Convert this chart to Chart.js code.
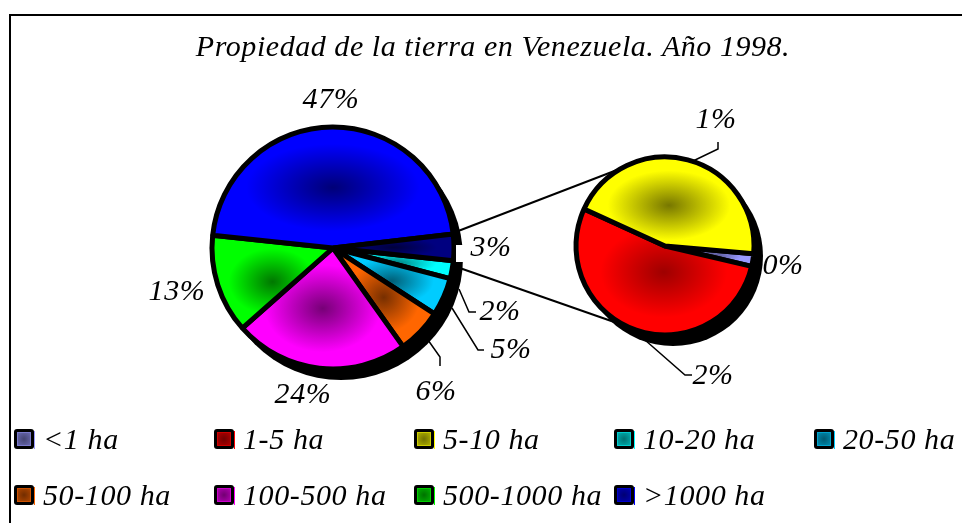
<!DOCTYPE html>
<html lang="es">
<head>
<meta charset="utf-8">
<title>Propiedad de la tierra en Venezuela</title>
<script src="https://cdn.jsdelivr.net/npm/chart.js@4"></script>
<style>
html,body{margin:0;padding:0;background:#fff;overflow:hidden}
#stage{position:relative;width:962px;height:523px;overflow:hidden;background:#fff;font-family:"Liberation Serif",serif;font-style:italic;color:#000}
#frame{position:absolute;left:9px;top:14px;width:970px;height:530px;border:2.5px solid #000;box-sizing:border-box}
canvas{position:absolute;left:0;top:0}
#title{position:absolute;left:0;top:28px;width:986px;text-align:center;font-size:30px;line-height:36px;letter-spacing:.55px;white-space:nowrap}
.item{position:absolute;height:24px;white-space:nowrap;font-size:30px;line-height:24px;letter-spacing:.6px}
.item span{position:absolute;left:29px;top:0}
.sw{position:absolute;left:0;top:2px;width:20px;height:20px;background:#000;border-radius:3px}
.sw i{position:absolute;left:3px;top:3px;width:12px;height:12px;border:1px solid}
.sw b{position:absolute;left:20px;top:2px;width:1px;height:18px}
</style>
</head>
<body>
<div id="stage">
  <div id="frame"></div>
  <canvas id="main" width="962" height="523"></canvas>
  <canvas id="second" width="962" height="523"></canvas>
  <div id="title">Propiedad de la tierra en Venezuela. Año 1998.</div>
  <div id="legend"></div>
</div>
<script>
const legendLabels = ["<1 ha","1-5 ha","5-10 ha","10-20 ha","20-50 ha","50-100 ha","100-500 ha","500-1000 ha",">1000 ha"];
const legendColors = ["#9999ff","#ff0000","#ffff00","#00ffff","#00ccff","#ff6600","#ff00ff","#00ff00","#0000ff"];

const mainCategories = ["10-20 ha","20-50 ha","50-100 ha","100-500 ha","500-1000 ha",">1000 ha","Otros"];
const mainValues = [2.4,5.1,6.0,23.3,13.2,46.5,3.5];
const mainTexts = ["2%","5%","6%","24%","13%","47%","3%"];
const mainColors = ["#00ffff","#00ccff","#ff6600","#ff00ff","#00ff00","#0000ff","#000080"];

const secondCategories = ["<1 ha","1-5 ha","5-10 ha"];
const secondValues = [0.08,1.86,1.56];
const secondTexts = ["0%","2%","1%"];
const secondColors = ["#9999ff","#ff0000","#ffff00"];

const LABEL_FONT = 'italic 30px "Liberation Serif", serif';
const SHADOW = {dx: 8, dy: 10};

function shade(hex, f){
  const n = parseInt(hex.slice(1),16);
  return `rgb(${((n>>16)&255)*f|0},${((n>>8)&255)*f|0},${(n&255)*f|0})`;
}
/* Bounding box of a slice, from the element's own geometry */
function sliceBox(a){
  const xs=[a.x], ys=[a.y], r=a.outerRadius;
  const pts=[a.startAngle,a.endAngle];
  for(let k=-8;k<=16;k++){const t=k*Math.PI/2; if(t>a.startAngle&&t<a.endAngle) pts.push(t);}
  pts.forEach(t=>{xs.push(a.x+r*Math.cos(t)); ys.push(a.y+r*Math.sin(t));});
  return {x0:Math.min(...xs),x1:Math.max(...xs),y0:Math.min(...ys),y1:Math.max(...ys)};
}
function slicePattern(a,color){
  const off=document.createElement('canvas'); off.width=962; off.height=523;
  const c=off.getContext('2d'), b=sliceBox(a);
  c.fillStyle=color; c.fillRect(0,0,962,523);
  const cx=(b.x0+b.x1)/2, cy=(b.y0+b.y1)/2, rx=(b.x1-b.x0)/2, ry=(b.y1-b.y0)/2;
  c.translate(cx,cy); c.scale(rx,ry);
  const g=c.createRadialGradient(0,0,0,0,0,1);
  g.addColorStop(0,shade(color,color==='#ff0000'?.62:.47));
  g.addColorStop(.72,color);
  g.addColorStop(1,color);
  c.fillStyle=g; c.fillRect(-1,-1,2,2);
  return c.createPattern(off,'no-repeat');
}
const slicePlugin={
  id:'slices',
  beforeDatasetsDraw(chart,args,o){
    const arcs=chart.getDatasetMeta(0).data, ctx=chart.ctx;
    arcs.forEach((a,i)=>{
      a.options=Object.assign({},a.options,{backgroundColor:slicePattern(a,chart.data.datasets[0].sliceColors[i])});
    });
    const a=arcs[0];
    ctx.save(); ctx.fillStyle='#000'; ctx.beginPath();
    ctx.arc(a.x+SHADOW.dx,a.y+SHADOW.dy,a.outerRadius+1,0,Math.PI*2); ctx.fill(); ctx.restore();
  },
  afterDatasetsDraw(chart,args,o){
    const ctx=chart.ctx, arcs=chart.getDatasetMeta(0).data, c=arcs[0];
    ctx.save();
    ctx.strokeStyle='#000'; ctx.lineJoin='miter';
    (o.leaders||[]).forEach(path=>{
      ctx.lineWidth=path.w||1.5; ctx.beginPath();
      path.p.forEach(([dx,dy],k)=>k?ctx.lineTo(c.x+dx,c.y+dy):ctx.moveTo(c.x+dx,c.y+dy));
      ctx.stroke();
    });
    if(o.notch){ctx.fillStyle='#fff';ctx.fillRect(c.x+o.notch[0],c.y+o.notch[1],o.notch[2],o.notch[3]);}
    ctx.font=LABEL_FONT; ctx.textAlign='center'; ctx.textBaseline='middle';
    ctx.letterSpacing='.6px';
    chart.data.datasets[0].texts.forEach((t,i)=>{
      const [dx,dy]=o.offsets[i];
      ctx.fillStyle='#000'; ctx.fillText(t,c.x+dx,c.y+dy);
    });
    ctx.restore();
  }
};
function pie(id,labels,values,colors,texts,rotation,radius,padding,labelOpts){
  return new Chart(document.getElementById(id),{
    type:'pie',
    data:{labels,datasets:[{data:values,texts,sliceColors:colors,backgroundColor:colors,borderColor:'#000',borderWidth:5,borderAlign:'center'}]},
    options:{
      responsive:false,animation:false,events:[],rotation,radius,
      layout:{padding},
      plugins:{legend:{display:false},tooltip:{enabled:false},title:{display:false},slices:labelOpts}
    },
    plugins:[slicePlugin]
  });
}
pie('main',mainCategories,mainValues,mainColors,mainTexts,96,121,
  {left:208,right:504,top:123,bottom:150},
  {offsets:[[167,64],[178,102],[103,144],[-30,147],[-156,44],[-2,-148],[158,0]],
   notch:[123,-3,16,17],
   leaders:[
     {w:2,p:[[120,-15],[284,-78]]},
     {w:2,p:[[121,18],[284,75]]},
     {p:[[126,41],[136,64],[143,64]]},
     {p:[[119,60],[145,102],[151,102]]},
     {p:[[95,92],[107,109],[107,118]]}
   ]});
pie('second',secondCategories,secondValues,secondColors,secondTexts,95,89,
  {left:565,right:197,top:146,bottom:177},
  {offsets:[[118,20],[48,130],[51,-126]],
   leaders:[
     {p:[[-20,94],[20,129],[27,129]]},
     {p:[[28,-85],[53,-97],[53,-104]]}
   ]});

/* Legend, built from the same label and colour lists */
const legend=document.getElementById('legend');
legendLabels.forEach((t,i)=>{
  const d=document.createElement('div'); d.className='item';
  d.style.left=(14+(i%5)*200)+'px';
  d.style.top=(427+Math.floor(i/5)*56)+'px';
  const col=legendColors[i];
  d.innerHTML='<div class="sw"><i></i><b></b></div><span></span>';
  d.querySelector('span').textContent=t;
  const sw=d.querySelector('i');
  sw.style.background=`radial-gradient(circle,${shade(col,.45)} 0%,${shade(col,.68)} 100%)`;
  sw.style.borderColor=shade(col,.8);
  d.querySelector('b').style.background=col;
  legend.appendChild(d);
});
</script>
</body>
</html>
